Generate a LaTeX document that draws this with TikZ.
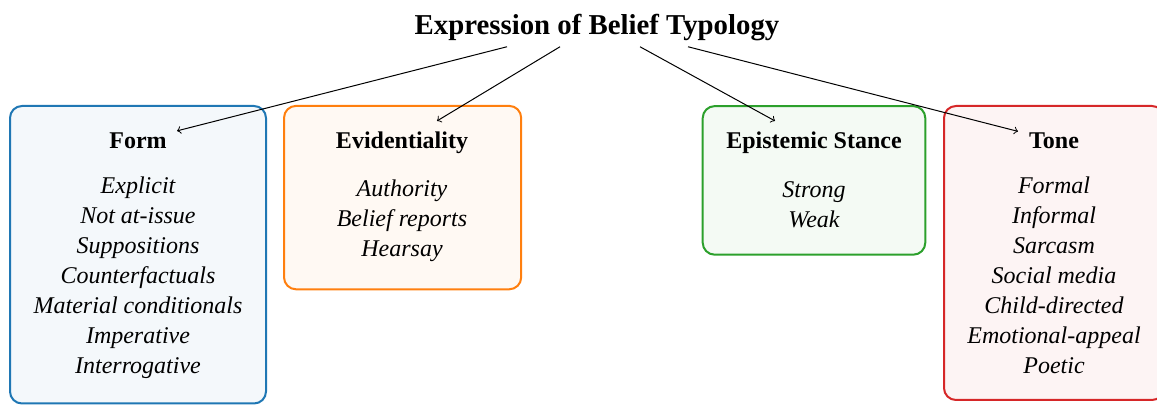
\documentclass[tikz,border=0pt]{standalone}
\usepackage{fontspec}
\setmainfont{Liberation Serif}
\usetikzlibrary{calc}
\definecolor{cblue}{HTML}{1F77B4}
\definecolor{corange}{HTML}{FF7F0E}
\definecolor{cgreen}{HTML}{2CA02C}
\definecolor{cred}{HTML}{D62728}
\tikzset{
  catbox/.style={draw=#1, fill=#1!5, line width=1pt, rounded corners=6pt, inner sep=0pt},
  heading/.style={font=\fontsize{12}{15}\selectfont\bfseries, inner sep=0pt, anchor=base},
  items/.style={font=\fontsize{12}{15}\selectfont\itshape, align=center, inner sep=0pt, anchor=base},
  link/.style={->, line width=0.5pt},
}
\begin{document}
\begin{tikzpicture}[x=0.5pt,y=-0.5pt]
\useasboundingbox (0,0) rectangle (1157,405);
% boxes
\node[catbox=cblue, minimum width=128pt, minimum height=148.75pt] (formbox) at (138,254.75) {};
\node[catbox=corange, minimum width=118.6pt, minimum height=91.7pt] (evidbox) at (402.6,197.6) {};
\node[catbox=cgreen, minimum width=111.3pt, minimum height=74.3pt] (epibox) at (814,180.4) {};
\node[catbox=cred, minimum width=110pt, minimum height=147pt] (tonebox) at (1054,253) {};
% title
\node[anchor=base, font=\fontsize{14.4}{17}\selectfont\bfseries, inner sep=2.5pt] (title) at (597,35) {Expression of Belief Typology};
% headings
\node[heading] (form) at (138,149) {Form};
\node[heading] (evid) at (402,149) {Evidentiality};
\node[heading] (epi) at (814,149) {Epistemic Stance};
\node[heading] (tone) at (1054,149) {Tone};
% items (base anchor = baseline of the last line)
\node[items] (formitems) at (138,373.5) {Explicit\\Not at-issue\\Suppositions\\Counterfactuals\\Material conditionals\\Imperative\\Interrogative};
\node[items] (eviditems) at (402,257) {Authority\\Belief reports\\Hearsay};
\node[items] (epiitems) at (814,227.5) {Strong\\Weak};
\node[items] (toneitems) at (1054,373.5) {Formal\\Informal\\Sarcasm\\Social media\\Child-directed\\Emotional-appeal\\Poetic};
% connectors
\draw[link] ($(title.south)+(-90,0)$) -- ($(form.north)+(39,-2)$);
\draw[link] ($(title.south)+(-37,0)$) -- ($(evid.north)+(35,-11)$);
\draw[link] ($(title.south)+(43,0)$) -- ($(epi.north)+(-39,-11)$);
\draw[link] ($(title.south)+(91,0)$) -- ($(tone.north)+(-36,-1.5)$);
\end{tikzpicture}
\end{document}
